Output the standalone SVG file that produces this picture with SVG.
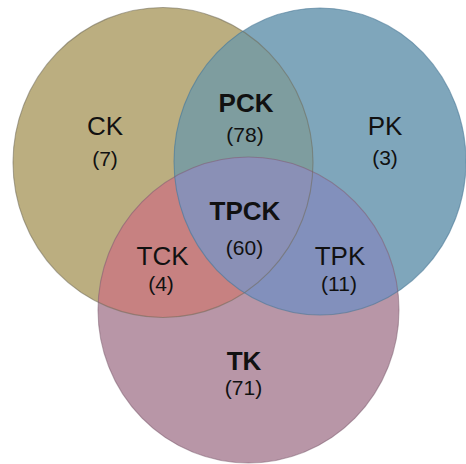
<svg xmlns="http://www.w3.org/2000/svg" width="466" height="464" viewBox="0 0 466 464">
  <style>
    .lbl { font-family: "Liberation Sans", Arial, sans-serif; font-size: 26px; fill: #111; text-anchor: middle; }
    .b { font-weight: bold; }
    .num { font-family: "Liberation Sans", Arial, sans-serif; font-size: 21px; fill: #111; text-anchor: middle; }
    .edge { fill: none; stroke-width: 1.1; }
  </style>
  <defs>
    <clipPath id="clipC"><ellipse cx="163" cy="162.5" rx="150" ry="155"/></clipPath>
    <clipPath id="clipP"><ellipse cx="320" cy="161.5" rx="146" ry="153.5"/></clipPath>
  </defs>
  <rect width="466" height="464" fill="#ffffff"/>
  <g id="sets">
    <g id="set-CK"><ellipse cx="163" cy="162.5" rx="150" ry="155" fill="#bbae80"/></g>
    <g id="set-PK"><ellipse cx="320" cy="161.5" rx="146" ry="153.5" fill="#7fa6bb"/></g>
    <g id="set-TK"><ellipse cx="248.5" cy="310" rx="150.5" ry="153" fill="#b896a7"/></g>
    <g id="region-PCK"><ellipse cx="320" cy="161.5" rx="146" ry="153.5" fill="#7e9d9f" clip-path="url(#clipC)"/></g>
    <g id="region-TCK"><ellipse cx="248.5" cy="310" rx="150.5" ry="153" fill="#c78181" clip-path="url(#clipC)"/></g>
    <g id="region-TPK"><ellipse cx="248.5" cy="310" rx="150.5" ry="153" fill="#8290bc" clip-path="url(#clipP)"/></g>
    <g id="region-TPCK" clip-path="url(#clipC)"><ellipse cx="248.5" cy="310" rx="150.5" ry="153" fill="#8a90b6" clip-path="url(#clipP)"/></g>
  </g>
  <g id="outlines">
    <ellipse class="edge" cx="163" cy="162.5" rx="150" ry="155" stroke="#6f6a58" stroke-opacity="0.55"/>
    <ellipse class="edge" cx="320" cy="161.5" rx="146" ry="153.5" stroke="#4a7896" stroke-opacity="0.6"/>
    <ellipse class="edge" cx="248.5" cy="310" rx="150.5" ry="153" stroke="#7a5a6c" stroke-opacity="0.5"/>
  </g>
  <g id="labels">
    <g id="lbl-CK"><text class="lbl" x="105" y="135">CK</text><text class="num" x="105" y="166">(7)</text></g>
    <g id="lbl-PCK"><text class="lbl b" x="246" y="112">PCK</text><text class="num" x="245" y="142">(78)</text></g>
    <g id="lbl-PK"><text class="lbl" x="385" y="135">PK</text><text class="num" x="385" y="165">(3)</text></g>
    <g id="lbl-TPCK"><text class="lbl b" x="245" y="220">TPCK</text><text class="num" x="244.5" y="255">(60)</text></g>
    <g id="lbl-TCK"><text class="lbl" x="162.5" y="265">TCK</text><text class="num" x="161" y="290.5">(4)</text></g>
    <g id="lbl-TPK"><text class="lbl" x="340" y="265">TPK</text><text class="num" x="339" y="290.5">(11)</text></g>
    <g id="lbl-TK"><text class="lbl b" x="244" y="370">TK</text><text class="num" x="243.5" y="395">(71)</text></g>
  </g>
</svg>
